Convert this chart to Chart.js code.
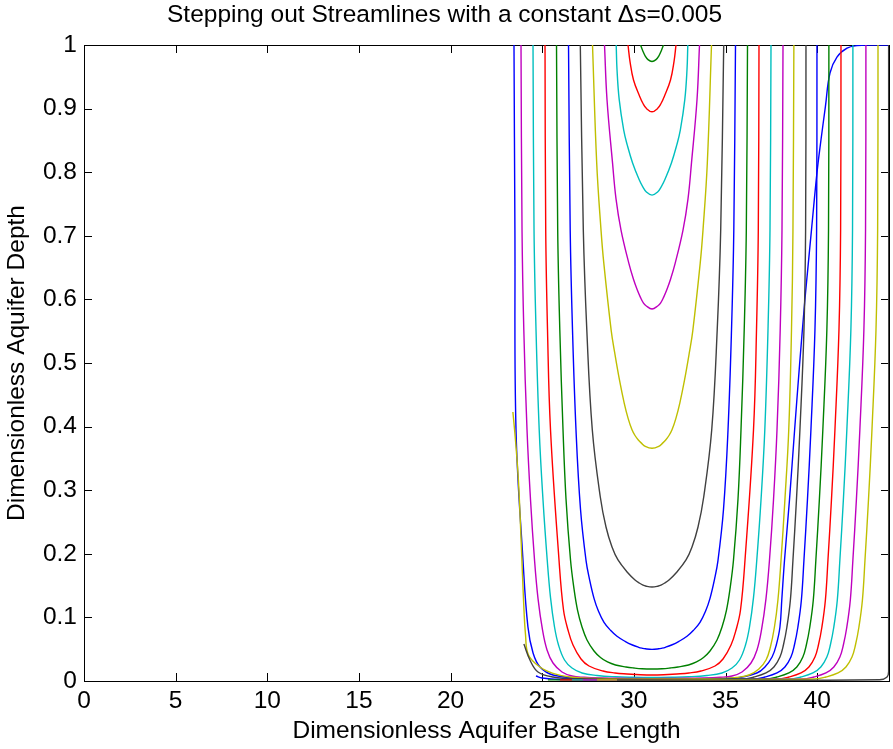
<!DOCTYPE html>
<html>
<head>
<meta charset="utf-8">
<script src="https://cdn.jsdelivr.net/npm/chart.js@4.4.1/dist/chart.umd.min.js"></script>
<style>
html,body{margin:0;padding:0;background:#fff;}
canvas{display:block;}
</style>
</head>
<body>
<canvas id="c" width="893" height="749"></canvas>
<script>
// ---- text ----
const titleText = 'Stepping out Streamlines with a constant \u0394s=0.005';
const xLabel = 'Dimensionless Aquifer Base Length';
const yLabel = 'Dimensionless Aquifer Depth';

// ---- ticks ----
const xTicks = [0, 5, 10, 15, 20, 25, 30, 35, 40];
const xTickLabels = ['0', '5', '10', '15', '20', '25', '30', '35', '40'];
const yTicks = [0, 0.1, 0.2, 0.3, 0.4, 0.5, 0.6, 0.7, 0.8, 0.9, 1];
const yTickLabels = ['0', '0.1', '0.2', '0.3', '0.4', '0.5', '0.6', '0.7', '0.8', '0.9', '1'];

// ---- closed U-shaped streamlines: [depth y, half-width], about x = arcCentre ----
const arcCentre = 30.99;
const a02 = [[1,0.627],[0.991,0.507],[0.983,0.376],[0.977,0.218],[0.974,0]];
const a03 = [[1,1.309],[0.974,1.200],[0.945,1.009],[0.919,0.671],[0.908,0.491],[0.900,0.300],[0.895,0]];
const a04 = [[1,1.953],[0.961,1.909],[0.914,1.789],[0.866,1.544],[0.843,1.353],[0.815,1.064],[0.788,0.698],[0.777,0.502],[0.769,0.306],[0.764,0]];
const a05 = [[1,2.591],[0.914,2.455],[0.815,2.155],[0.758,1.964],[0.709,1.691],[0.657,1.266],[0.632,1.015],[0.615,0.807],[0.604,0.644],[0.594,0.464],[0.590,0.327],[0.585,0]];
const a06 = [[1,3.246],[0.814,3.017],[0.709,2.782],[0.657,2.630],[0.551,2.226],[0.515,2.029],[0.473,1.773],[0.437,1.517],[0.413,1.304],[0.395,1.091],[0.386,0.927],[0.379,0.747],[0.374,0.578],[0.369,0.366],[0.366,0]];
const a07 = [[1,3.912],[0.7091,3.748],[0.5519,3.557],[0.3947,3.257],[0.2893,2.821],[0.2421,2.510],[0.2107,2.182],[0.1903,1.855],[0.1698,1.309],[0.1588,0.927],[0.1541,0.698],[0.1509,0.491],[0.1494,0.349],[0.1478,0]];
const a08 = [[1,4.555],[0.7086,4.463],[0.5514,4.337],[0.3942,4.146],[0.2700,3.901],[0.1898,3.601],[0.1599,3.410],[0.1300,3.164],[0.1096,2.919],[0.0923,2.619],[0.0797,2.264],[0.0703,1.909],[0.0624,1.473],[0.0566,1.069],[0.0530,0.731],[0.0514,0.518],[0.0506,0.366],[0.0498,0]];
const a09 = [[1,5.210],[0.7091,5.145],[0.5519,5.030],[0.3947,4.855],[0.2862,4.692],[0.1903,4.446],[0.1447,4.255],[0.1116,4.064],[0.0849,3.819],[0.0645,3.546],[0.0472,3.164],[0.0370,2.810],[0.0299,2.428],[0.0252,1.991],[0.0220,1.418],[0.0204,0.982],[0.0193,0.546],[0.0189,0]];
const a10 = [[1,5.837],[0.7091,5.799],[0.5519,5.701],[0.3947,5.537],[0.1903,5.074],[0.1116,4.828],[0.0802,4.583],[0.0566,4.310],[0.0346,3.873],[0.0236,3.437],[0.0157,2.673],[0.0126,2.019],[0.0110,1.364],[0.0102,0.873],[0.0094,0]];
const a11 = [[1,6.492],[0.7091,6.437],[0.5519,6.328],[0.3947,6.154],[0.2846,5.947],[0.1903,5.717],[0.1311,5.537],[0.0849,5.319],[0.0566,5.101],[0.0330,4.774],[0.0204,4.364],[0.0126,3.819],[0.0087,3.001],[0.0066,1.991],[0.0058,1.091],[0.0054,0]];
const a12 = [[1,7.147],[0.7091,7.092],[0.5519,6.994],[0.3947,6.819],[0.2846,6.628],[0.1903,6.410],[0.1296,6.219],[0.0802,5.974],[0.0487,5.728],[0.0283,5.401],[0.0142,4.910],[0.0079,4.364],[0.0058,3.710],[0.0047,2.837],[0.0041,1.364],[0.0038,0]];

// ---- other streamlines as [x, y], traced right -> left ----
const c01 = [[43.92,1],[42.88,1],[42.17,0.999],[41.63,0.995],[41.08,0.981],[40.70,0.956],[40.45,0.903],[40.21,0.851],[39.99,0.799],[39.69,0.709],[39.47,0.642],[39.33,0.599],[39.04,0.497],[38.77,0.3947],[38.49,0.2846],[38.22,0.1903],[38.07,0.1274],[37.97,0.0849],[37.77,0.0566],[37.54,0.0377],[37.15,0.0220],[36.71,0.0126],[35.49,0.0047],[30.99,0.0031],[27.22,0.0047],[25.59,0.0094],[24.88,0.022],[24.50,0.044],[24.22,0.085],[23.95,0.190],[23.57,0.395],[23.51,0.709],[23.46,1]];
const c13 = [[38.73,1],[38.68,0.7091],[38.60,0.5519],[38.45,0.3947],[38.24,0.2846],[38.03,0.1903],[37.86,0.1274],[37.67,0.0849],[37.45,0.0535],[37.21,0.0330],[36.82,0.0189],[36.28,0.0094],[35.62,0.0055],[34.97,0.0042],[30.99,0.0031],[28.15,0.0039],[26.51,0.0063],[25.59,0.0121],[24.88,0.0220],[24.25,0.0409],[24.09,0.0723],[23.98,0.1274],[23.87,0.206],[23.70,0.316],[23.54,0.379],[23.40,0.423]];
const c14 = [[39.39,1],[39.37,0.7091],[39.28,0.5519],[39.06,0.3947],[38.87,0.2846],[38.68,0.1903],[38.54,0.1274],[38.35,0.0849],[38.16,0.0566],[37.97,0.0377],[37.64,0.0220],[37.21,0.0126],[36.55,0.0063],[35.90,0.0031],[30.99,0.0025],[27.00,0.0035],[25.59,0.0063],[24.77,0.0142],[24.33,0.033],[24.00,0.058]];
const c15 = [[39.99,1],[39.97,0.7091],[39.88,0.5519],[39.66,0.3947],[39.47,0.2846],[39.28,0.1903],[39.14,0.1274],[38.95,0.0849],[38.76,0.0566],[38.57,0.0377],[38.24,0.0220],[37.81,0.0126],[37.15,0.0063],[36.50,0.0031],[30.99,0.0022],[25.97,0.0024],[24.99,0.0047],[24.66,0.0079]];
const c16 = [[40.64,1],[40.62,0.7091],[40.53,0.5519],[40.31,0.3947],[40.12,0.2846],[39.93,0.1903],[39.79,0.1274],[39.60,0.0849],[39.41,0.0566],[39.22,0.0377],[38.89,0.0220],[38.46,0.0126],[37.80,0.0063],[37.15,0.0031],[30.99,0.0018],[25.31,0.0018]];
const c17 = [[41.30,1],[41.28,0.7091],[41.19,0.5519],[40.97,0.3947],[40.78,0.2846],[40.59,0.1903],[40.45,0.1274],[40.26,0.0849],[40.07,0.0566],[39.88,0.0377],[39.55,0.0220],[39.12,0.0126],[38.46,0.0063],[37.81,0.0031],[30.99,0.0018],[25.97,0.0018]];
const c18 = [[41.95,1],[41.93,0.7091],[41.84,0.5519],[41.62,0.3947],[41.43,0.2846],[41.24,0.1903],[41.10,0.1274],[40.91,0.0849],[40.72,0.0566],[40.53,0.0377],[40.20,0.0220],[39.77,0.0126],[39.11,0.0063],[38.46,0.0031],[30.99,0.0018],[26.62,0.0018]];
const c19 = [[42.66,1],[42.64,0.7091],[42.55,0.5519],[42.33,0.3947],[42.14,0.2846],[41.95,0.1903],[41.81,0.1274],[41.62,0.0849],[41.43,0.0566],[41.24,0.0377],[40.91,0.0220],[40.48,0.0126],[39.82,0.0063],[39.17,0.0031],[30.99,0.0018],[27.22,0.0018]];
const c20 = [[43.32,1],[43.30,0.7091],[43.21,0.5519],[42.99,0.3947],[42.80,0.2846],[42.61,0.1903],[42.47,0.1274],[42.28,0.0849],[42.09,0.0566],[41.90,0.0377],[41.57,0.0220],[41.14,0.0126],[40.48,0.0063],[39.83,0.0031],[30.99,0.0018],[27.99,0.0018]];
const c21 = [[43.90,1],[43.90,0.015],[43.80,0.006],[43.40,0.002],[29.08,0.0015]];

// MATLAB classic colour order: b, g, r, c, m, y, k
const colorOrder = ['#0000ff', '#008000', '#ff0000', '#00bfbf', '#bf00bf', '#bfbf00', '#404040'];

// build the [x,y] list of a closed arc from its half-width table (right branch, then left branch)
function arcPoints(tab) {
  const right = tab.map(([y, w]) => [arcCentre + w, y]);
  const left = tab.slice(0, -1).reverse().map(([y, w]) => [arcCentre - w, y]);
  return right.concat(left);
}

const streamlines = [c01, arcPoints(a02), arcPoints(a03), arcPoints(a04), arcPoints(a05), arcPoints(a06),
  arcPoints(a07), arcPoints(a08), arcPoints(a09), arcPoints(a10), arcPoints(a11), arcPoints(a12),
  c13, c14, c15, c16, c17, c18, c19, c20, c21];

const FONT = { family: '"Liberation Sans", Arial, Helvetica, sans-serif', size: 24.5, weight: 'normal' };

const datasets = streamlines.map((pts, i) => ({
  data: pts,
  showLine: true,
  borderColor: colorOrder[i % colorOrder.length],
  borderWidth: 1.4,
  pointRadius: 0,
  tension: 0.4,
  fill: false,
  order: -i
}));

const boxPlugin = {
  id: 'matlabBox',
  beforeDatasetsDraw(chart) {
    const { ctx, chartArea: a, scales } = chart;
    ctx.save();
    ctx.strokeStyle = '#000';
    ctx.lineWidth = 1;
    const L = 8;
    ctx.beginPath();
    xTicks.forEach(v => {
      const px = Math.round(scales.x.getPixelForValue(v)) + 0.5;
      ctx.moveTo(px, a.bottom); ctx.lineTo(px, a.bottom - L);
      ctx.moveTo(px, a.top); ctx.lineTo(px, a.top + L);
    });
    yTicks.forEach(v => {
      const py = Math.round(scales.y.getPixelForValue(v)) + 0.5;
      ctx.moveTo(a.left, py); ctx.lineTo(a.left + L, py);
      ctx.moveTo(a.right, py); ctx.lineTo(a.right - L, py);
    });
    ctx.stroke();
    ctx.strokeRect(Math.round(a.left) + 0.5, Math.round(a.top) + 0.5, Math.round(a.right - a.left), Math.round(a.bottom - a.top));
    ctx.restore();
  }
};

new Chart(document.getElementById('c'), {
  type: 'scatter',
  data: { datasets },
  options: {
    responsive: false,
    animation: false,
    events: [],
    layout: { padding: { left: 0, right: 4, top: 0, bottom: 0 } },
    plugins: {
      legend: { display: false },
      tooltip: { enabled: false },
      title: {
        display: true, text: titleText, color: '#000', font: FONT,
        padding: { top: 1, bottom: 14.6 }
      }
    },
    scales: {
      x: {
        type: 'linear', min: 0, max: 43.92,
        border: { display: false },
        grid: { display: false, drawTicks: false },
        ticks: { color: '#000', font: FONT, padding: 6, maxRotation: 0, autoSkip: false,
                 callback: (v, i) => xTickLabels[i] },
        title: { display: true, text: xLabel, color: '#000', font: FONT, padding: { top: 0, bottom: 3 } },
        afterBuildTicks: s => { s.ticks = xTicks.map(v => ({ value: v })); },
        afterFit: s => { s.height = 68; }
      },
      y: {
        type: 'linear', min: 0, max: 1,
        border: { display: false },
        grid: { display: false, drawTicks: false },
        ticks: { color: '#000', font: FONT, padding: 7, autoSkip: false,
                 callback: (v, i) => yTickLabels[i] },
        title: { display: true, text: yLabel, color: '#000', font: FONT, padding: { top: 3, bottom: 0 } },
        afterBuildTicks: s => { s.ticks = yTicks.map(v => ({ value: v })); },
        afterFit: s => { s.width = 84; }
      }
    }
  },
  plugins: [boxPlugin]
});
</script>
</body>
</html>
